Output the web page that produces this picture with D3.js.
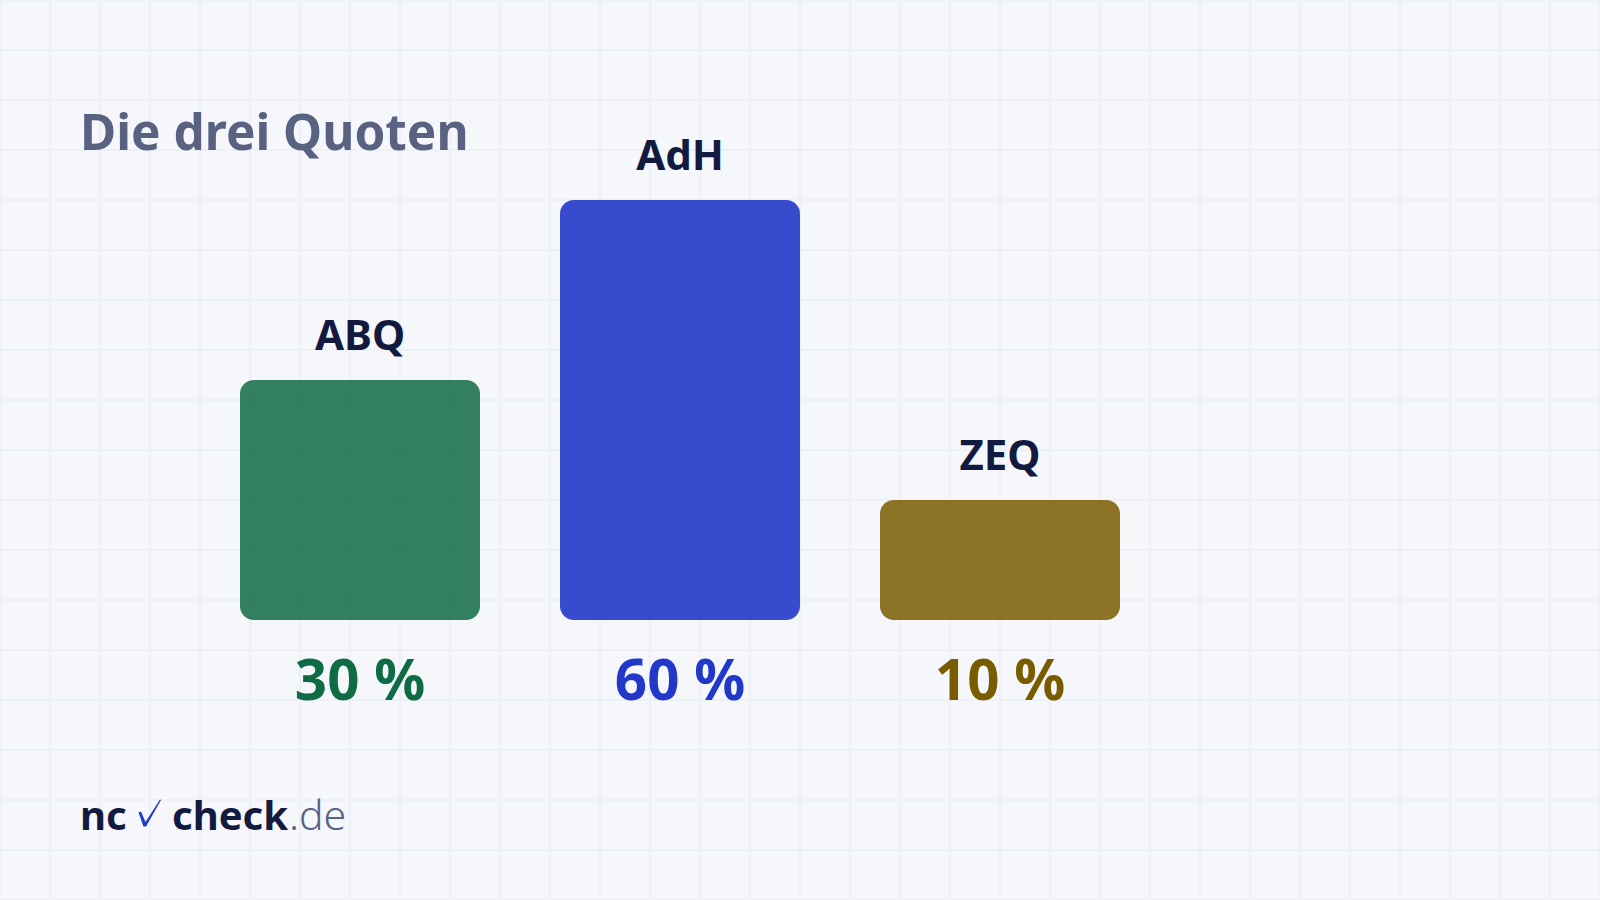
<!DOCTYPE html>
<html lang="de">
<head>
<meta charset="utf-8">
<title>Die drei Quoten</title>
<script src="https://cdn.jsdelivr.net/npm/d3@7"></script>
<style>
  html, body { margin: 0; padding: 0; background: #f5f7fb; }
  svg { display: block; }
  text { font-family: "Noto Sans", sans-serif; }
</style>
</head>
<body>
<svg id="chart" width="1600" height="900"></svg>
<script>
const quoten = ["ABQ", "AdH", "ZEQ"];
const werte = [30, 60, 10];
const labels = ["30 %", "60 %", "10 %"];
const farben = ["#0f6b44", "#2238c8", "#7a5c00"];
const deckkraft = [0.85, 0.9, 0.85];

const svg = d3.select("#chart");

// Raster im Hintergrund
const raster = svg.append("g").attr("stroke", "#eef0f8").attr("stroke-width", 2);
d3.range(0, 1601, 50).forEach(x => {
    raster.append("line").attr("x1", x).attr("x2", x).attr("y1", 0).attr("y2", 900);
});
d3.range(0, 901, 50).forEach(y => {
    raster.append("line").attr("x1", 0).attr("x2", 1600).attr("y1", y).attr("y2", y);
});

// Die Balken sind im Original nicht bei null verankert
const x = d3.scaleBand().domain(quoten).range([240, 1120]).paddingInner(0.25);
const y = d3.scaleLinear().domain([-10, 60]).range([620, 200]);

svg.append("text")
    .attr("x", 80).attr("y", 150)
    .attr("font-size", 49.5).attr("font-weight", 700).attr("fill", "#5a6282")
    .text("Die drei Quoten");

const balken = svg.selectAll("g.balken")
    .data(quoten)
    .join("g")
    .attr("class", "balken");

balken.append("rect")
    .attr("x", d => x(d))
    .attr("y", (d, i) => y(werte[i]))
    .attr("width", x.bandwidth())
    .attr("height", (d, i) => y(-10) - y(werte[i]))
    .attr("rx", 14)
    .attr("fill", (d, i) => farben[i])
    .attr("fill-opacity", (d, i) => deckkraft[i]);

balken.append("text")
    .attr("x", d => x(d) + x.bandwidth() / 2)
    .attr("y", (d, i) => y(werte[i]) - 30)
    .attr("text-anchor", "middle")
    .attr("font-size", 42).attr("font-weight", 700).attr("fill", "#131a3f")
    .text(d => d);

balken.append("text")
    .attr("x", d => x(d) + x.bandwidth() / 2)
    .attr("y", 700)
    .attr("text-anchor", "middle")
    .attr("font-size", 56.5).attr("font-weight", 700)
    .attr("fill", (d, i) => farben[i])
    .text((d, i) => labels[i]);

// Logo
const logo = svg.append("text").attr("x", 80).attr("y", 830).attr("font-size", 40).attr("fill", "#131a3f");
logo.append("tspan").attr("font-weight", 700).text("nc");
logo.append("tspan").attr("x", 172).attr("font-weight", 700).text("check");
logo.append("tspan").attr("dx", 1).attr("font-size", 41).attr("font-weight", 300).attr("fill", "#5a6282").text(".de");

// Haken im Logo
svg.append("path")
    .attr("d", "M138.5,812.5 L141,811.5 L145.5,822 L160,799.5 L161,800 L146,826.5 L143.5,826.5 Z")
    .attr("fill", "#2238c8");
</script>
</body>
</html>
